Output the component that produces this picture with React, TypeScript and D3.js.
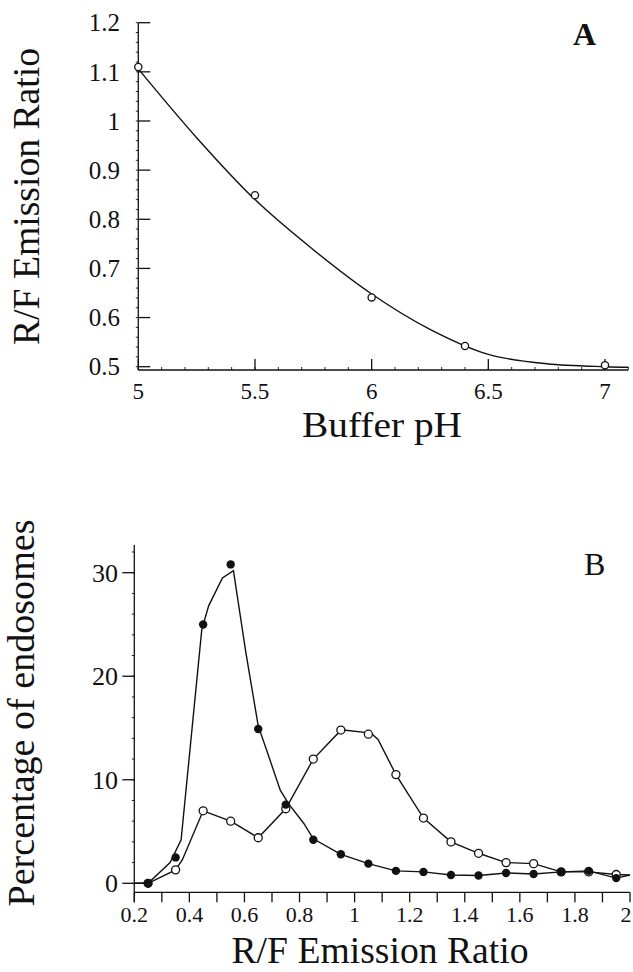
import React from "react";
import * as d3 from "d3";

// ---------- Panel A data ----------
const phValues = [5, 5.5, 6, 6.4, 7];
const ratioValues = [1.11, 0.849, 0.641, 0.542, 0.503];
const fitPh = [5, 5.25, 5.5, 5.75, 6, 6.25, 6.5, 6.75, 7, 7.1];
const fitRatio = [1.106, 0.966, 0.84, 0.738, 0.648, 0.576, 0.525, 0.506, 0.5, 0.499];
const aXTicks = [5, 5.5, 6, 6.5, 7];
const aXTickLabels = ["5", "5.5", "6", "6.5", "7"];
const aYTicks = [0.5, 0.6, 0.7, 0.8, 0.9, 1.0, 1.1, 1.2];
const aYTickLabels = ["0.5", "0.6", "0.7", "0.8", "0.9", "1", "1.1", "1.2"];

// ---------- Panel B data ----------
const binCenters = [0.25, 0.35, 0.45, 0.55, 0.65, 0.75, 0.85, 0.95, 1.05, 1.15, 1.25, 1.35, 1.45, 1.55, 1.65, 1.75, 1.85, 1.95];
const filledPct = [0, 2.5, 25, 30.8, 14.9, 7.6, 4.2, 2.8, 1.9, 1.2, 1.1, 0.8, 0.75, 1.0, 0.9, 1.1, 1.2, 0.5];
const openPct = [0, 1.3, 7.0, 6.0, 4.4, 7.2, 12.0, 14.8, 14.4, 10.5, 6.3, 4.0, 2.9, 2.0, 1.9, 1.1, 1.1, 0.85];
// traced line vertices (the drawn curves deviate slightly from the markers)
const filledLineX = [0.2, 0.25, 0.33, 0.37, 0.445, 0.47, 0.52, 0.56, 0.605, 0.65, 0.68, 0.73, 0.76, 0.815, 0.85, 0.95, 1.05, 1.15, 1.25, 1.35, 1.45, 1.55, 1.65, 1.75, 1.85, 1.95, 2.0];
const filledLineY = [0, 0, 2.0, 4.2, 24.5, 26.8, 29.5, 30.2, 22.3, 15.2, 12.9, 9.0, 7.7, 5.8, 4.3, 2.8, 1.9, 1.2, 1.1, 0.8, 0.75, 1.0, 0.9, 1.1, 1.2, 0.5, 0.8];
const openLineX = [0.2, 0.25, 0.35, 0.375, 0.45, 0.55, 0.65, 0.75, 0.85, 0.94, 0.96, 1.06, 1.085, 1.15, 1.25, 1.35, 1.45, 1.55, 1.65, 1.75, 1.85, 1.95, 2.0];
const openLineY = [0, 0, 1.3, 2.3, 7.0, 6.0, 4.4, 7.2, 12.0, 14.5, 14.8, 14.5, 13.9, 10.5, 6.3, 4.0, 2.9, 2.0, 1.9, 1.1, 1.1, 0.85, 0.8];
const bXTicks = [0.2, 0.3, 0.4, 0.5, 0.6, 0.7, 0.8, 0.9, 1.0, 1.1, 1.2, 1.3, 1.4, 1.5, 1.6, 1.7, 1.8, 1.9, 2.0];
const bXLabelTicks = [0.2, 0.4, 0.6, 0.8, 1.0, 1.2, 1.4, 1.6, 1.8, 2.0];
const bXTickLabels = ["0.2", "0.4", "0.6", "0.8", "1", "1.2", "1.4", "1.6", "1.8", "2"];
const bYTicks = [0, 10, 20, 30];
const bYTickLabels = ["0", "10", "20", "30"];

const FONT = "'Liberation Serif', 'Times New Roman', serif";
const INK = "#111";

export default function App() {
  // Panel A scales
  const ax = d3.scaleLinear().domain([5, 7]).range([138.3, 605]);
  const ay = d3.scaleLinear().domain([0.5, 1.2]).range([366.7, 22.7]);
  const aAxisY = 370;
  const aFit = d3
    .line<number>()
    .x((d, i) => ax(fitPh[i]))
    .y((d) => ay(d))
    .curve(d3.curveCatmullRom)(fitRatio);
  const aYMinor = d3.range(0.5, 1.2001, 0.02);
  const aXMinor = d3.range(5, 7.1001, 0.1);

  // Panel B scales
  const bx = d3.scaleLinear().domain([0.2, 2.0]).range([134.3, 630]);
  const by = d3.scaleLinear().domain([0, 30]).range([883.3, 572.7]);
  const bAxisY = 892.3;
  const filledLine = d3
    .line<number>()
    .x((d, i) => bx(filledLineX[i]))
    .y((d) => by(d))(filledLineY);
  const openLine = d3
    .line<number>()
    .x((d, i) => bx(openLineX[i]))
    .y((d) => by(d))(openLineY);
  const bYMinor = d3.range(0, 32.001, 2);

  return (
    <svg
      width={633}
      height={972}
      style={{ position: "absolute", left: 0, top: 0, background: "#fff" }}
      fontFamily={FONT}
    >
      <rect x={0} y={0} width={633} height={972} fill="#fff" />
      {/* ================= Panel A ================= */}
      <g stroke={INK} strokeWidth={1.3} fill="none">
        <line x1={ax(5)} y1={ay(1.2)} x2={ax(5)} y2={aAxisY} />
        <line x1={ax(5)} y1={aAxisY} x2={ax(7.1)} y2={aAxisY} />
        {aYTicks.map((t) => (
          <line key={"ayt" + t} x1={ax(5)} x2={ax(5) + 12} y1={ay(t)} y2={ay(t)} />
        ))}
        {aYMinor.map((t, i) => (
          <line key={"aym" + i} x1={ax(5) - 2.5} x2={ax(5)} y1={ay(t)} y2={ay(t)} strokeWidth={0.9} />
        ))}
        {aXTicks.map((t) => (
          <line key={"axt" + t} x1={ax(t)} x2={ax(t)} y1={aAxisY} y2={aAxisY - 11} />
        ))}
        {aXMinor.map((t, i) => (
          <line key={"axm" + i} x1={ax(t)} x2={ax(t)} y1={aAxisY} y2={aAxisY - 3} strokeWidth={0.9} />
        ))}
        <path d={aFit || ""} strokeWidth={1.4} />
        {phValues.map((p, i) => (
          <circle key={"ap" + i} cx={ax(p)} cy={ay(ratioValues[i])} r={3.6} fill="#fff" strokeWidth={1.3} />
        ))}
      </g>
      <g fill={INK} fontSize={25} textAnchor="end">
        {aYTicks.map((t, i) => (
          <text key={"ayl" + t} x={120} y={ay(t)} dy="0.35em">
            {aYTickLabels[i]}
          </text>
        ))}
      </g>
      <g fill={INK} fontSize={23} textAnchor="middle">
        {aXTicks.map((t, i) => (
          <text key={"axl" + t} x={ax(t)} y={399}>
            {aXTickLabels[i]}
          </text>
        ))}
      </g>
      <text x={382} y={437} fontSize={36} textAnchor="middle" fill={INK} textLength={160} lengthAdjust="spacingAndGlyphs">
        Buffer  pH
      </text>
      <text
        transform="translate(39,196.5) rotate(-90)"
        fontSize={37}
        textAnchor="middle"
        fill={INK}
        textLength={297}
        lengthAdjust="spacingAndGlyphs"
      >
        R/F Emission Ratio
      </text>
      <text x={573} y={45} fontSize={32} fontWeight="bold" fill={INK}>
        A
      </text>

      {/* ================= Panel B ================= */}
      <g stroke={INK} strokeWidth={1.3} fill="none">
        <line x1={bx(0.2)} y1={545} x2={bx(0.2)} y2={bAxisY + 10} />
        <line x1={bx(0.2)} y1={bAxisY} x2={bx(2.0)} y2={bAxisY} />
        {bXTicks.map((t) => (
          <line key={"bxt" + t} x1={bx(t)} x2={bx(t)} y1={bAxisY} y2={bAxisY + 10} />
        ))}
        {bYTicks.map((t) => (
          <line key={"byt" + t} x1={bx(0.2) - 12} x2={bx(0.2)} y1={by(t)} y2={by(t)} />
        ))}
        {bYMinor.map((t, i) => (
          <line key={"bym" + i} x1={bx(0.2) - 2.5} x2={bx(0.2)} y1={by(t)} y2={by(t)} strokeWidth={0.9} />
        ))}
        <path d={filledLine || ""} strokeWidth={1.4} />
        <path d={openLine || ""} strokeWidth={1.4} />
        {binCenters.map((c, i) => (
          <circle key={"bo" + i} cx={bx(c)} cy={by(openPct[i])} r={4} fill="#fff" strokeWidth={1.3} />
        ))}
        {binCenters.map((c, i) => (
          <circle key={"bf" + i} cx={bx(c)} cy={by(filledPct[i])} r={4.2} fill={INK} stroke="none" />
        ))}
      </g>
      <g fill={INK} fontSize={26} textAnchor="end">
        {bYTicks.map((t, i) => (
          <text key={"byl" + t} x={118} y={by(t)} dy="0.35em">
            {bYTickLabels[i]}
          </text>
        ))}
      </g>
      <g fill={INK} fontSize={22} textAnchor="middle">
        {bXLabelTicks.map((t, i) => (
          <text key={"bxl" + t} x={Math.min(bx(t), 626)} y={921.7}>
            {bXTickLabels[i]}
          </text>
        ))}
      </g>
      <text x={380} y={963} fontSize={37} textAnchor="middle" fill={INK} textLength={297} lengthAdjust="spacingAndGlyphs">
        R/F Emission Ratio
      </text>
      <text
        transform="translate(34,713) rotate(-90)"
        fontSize={37}
        textAnchor="middle"
        fill={INK}
        textLength={387}
        lengthAdjust="spacingAndGlyphs"
      >
        Percentage of endosomes
      </text>
      <text x={584} y={575} fontSize={32} fill={INK}>
        B
      </text>
    </svg>
  );
}
